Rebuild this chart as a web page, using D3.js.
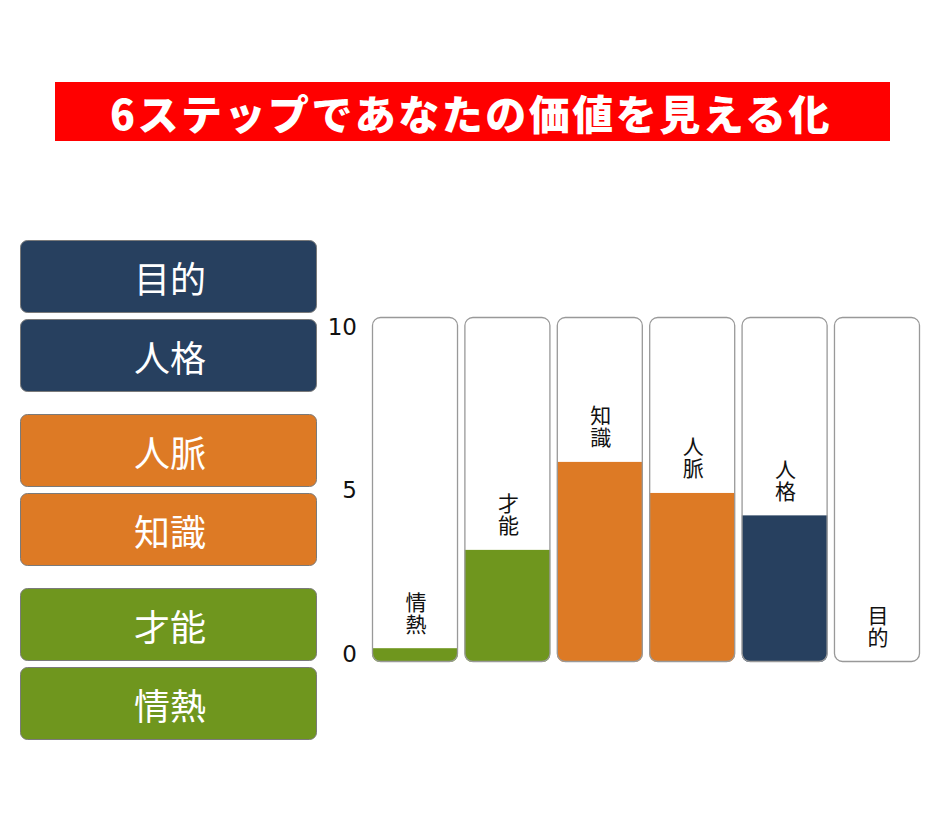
<!DOCTYPE html>
<html><head><meta charset="utf-8">
<script src="https://cdn.jsdelivr.net/npm/d3@7"></script>
<style>body{margin:0;background:#fff}svg{display:block}</style>
</head><body>
<script>
const title = "6ステップであなたの価値を見える化";
const categories = ["情熱","才能","知識","人脈","人格","目的"];
const values = [0.4, 3.25, 5.8, 4.9, 4.25, 0];
const groups = ["g","g","o","o","n","n"];
const legendOrder = ["目的","人格","人脈","知識","才能","情熱"];
const legendGroups = ["n","n","o","o","g","g"];
const tickValues = [0,5,10];
const colors = {g:"#6f961e", o:"#dd7a25", n:"#27405f"};

const W=940,H=824;
const svg=d3.select("body").append("svg").attr("width",W).attr("height",H);
const cjk = "'Noto Sans CJK JP','Noto Sans CJK SC',sans-serif";

// Title
svg.append("rect").attr("x",55).attr("y",82).attr("width",835).attr("height",59).attr("fill","#ff0000");
svg.append("text").attr("x",471).attr("y",112).attr("text-anchor","middle").attr("dominant-baseline","central")
  .attr("fill","#fff").attr("font-family",cjk).attr("font-weight",900).attr("font-size",41)
  .attr("letter-spacing",2.5).text(title);

// Legend
const lg = svg.append("g");
legendOrder.forEach((c,i)=>{
  const grp = Math.floor(i/2);
  const y = 240 + i*79 + grp*16;
  lg.append("rect").attr("x",20.5).attr("y",y+0.5).attr("width",296).attr("height",72).attr("rx",7)
    .attr("fill",colors[legendGroups[i]]).attr("stroke","#7a7a7a").attr("stroke-width",1);
  lg.append("text").attr("x",170).attr("y",y+37).attr("text-anchor","middle").attr("dominant-baseline","central")
    .attr("fill","#fff").attr("font-family",cjk).attr("font-size",36).text(c);
});

// Chart
const x = d3.scaleBand().domain(categories).range([372,920]).paddingInner(0.069).paddingOuter(0);
const y = d3.scaleLinear().domain([0,10]).range([662,317]);
const yTick = y.copy().range([653,326]);

const axis = d3.axisLeft(yTick).tickValues(tickValues).tickSize(0).tickPadding(0);
const ag = svg.append("g").attr("transform","translate(357,0)").call(axis);
ag.select(".domain").remove();
ag.selectAll("text").attr("font-family","'DejaVu Sans',sans-serif").attr("font-size",23).attr("fill","#111").attr("dy","0.35em");

const defs = svg.append("defs");
categories.forEach((c,i)=>{
  defs.append("clipPath").attr("id","clip"+i).append("rect")
    .attr("x",x(c)).attr("y",y(10)).attr("width",x.bandwidth()).attr("height",y(0)-y(10)).attr("rx",8);
});
const cg = svg.append("g");
categories.forEach((c,i)=>{
  cg.append("rect").attr("x",x(c)).attr("y",y(10)).attr("width",x.bandwidth()).attr("height",y(0)-y(10)).attr("rx",8).attr("fill","#fff");
  cg.append("rect").attr("clip-path",`url(#clip${i})`).attr("x",x(c)).attr("y",y(values[i]))
    .attr("width",x.bandwidth()).attr("height",y(0)-y(values[i])).attr("fill",colors[groups[i]]);
  cg.append("rect").attr("x",x(c)+0.5).attr("y",y(10)+0.5).attr("width",x.bandwidth()-1).attr("height",y(0)-y(10)-1).attr("rx",8)
    .attr("fill","none").attr("stroke","#999").attr("stroke-width",1.3);
  const cx = x(c)+x.bandwidth()/2+1;
  cg.append("text").attr("x",cx).attr("y",y(values[i])-13)
    .attr("writing-mode","vertical-rl").attr("text-anchor","end")
    .attr("font-family",cjk).attr("font-size",21).attr("letter-spacing",1).attr("fill","#111").text(c);
});
</script>
</body></html>
